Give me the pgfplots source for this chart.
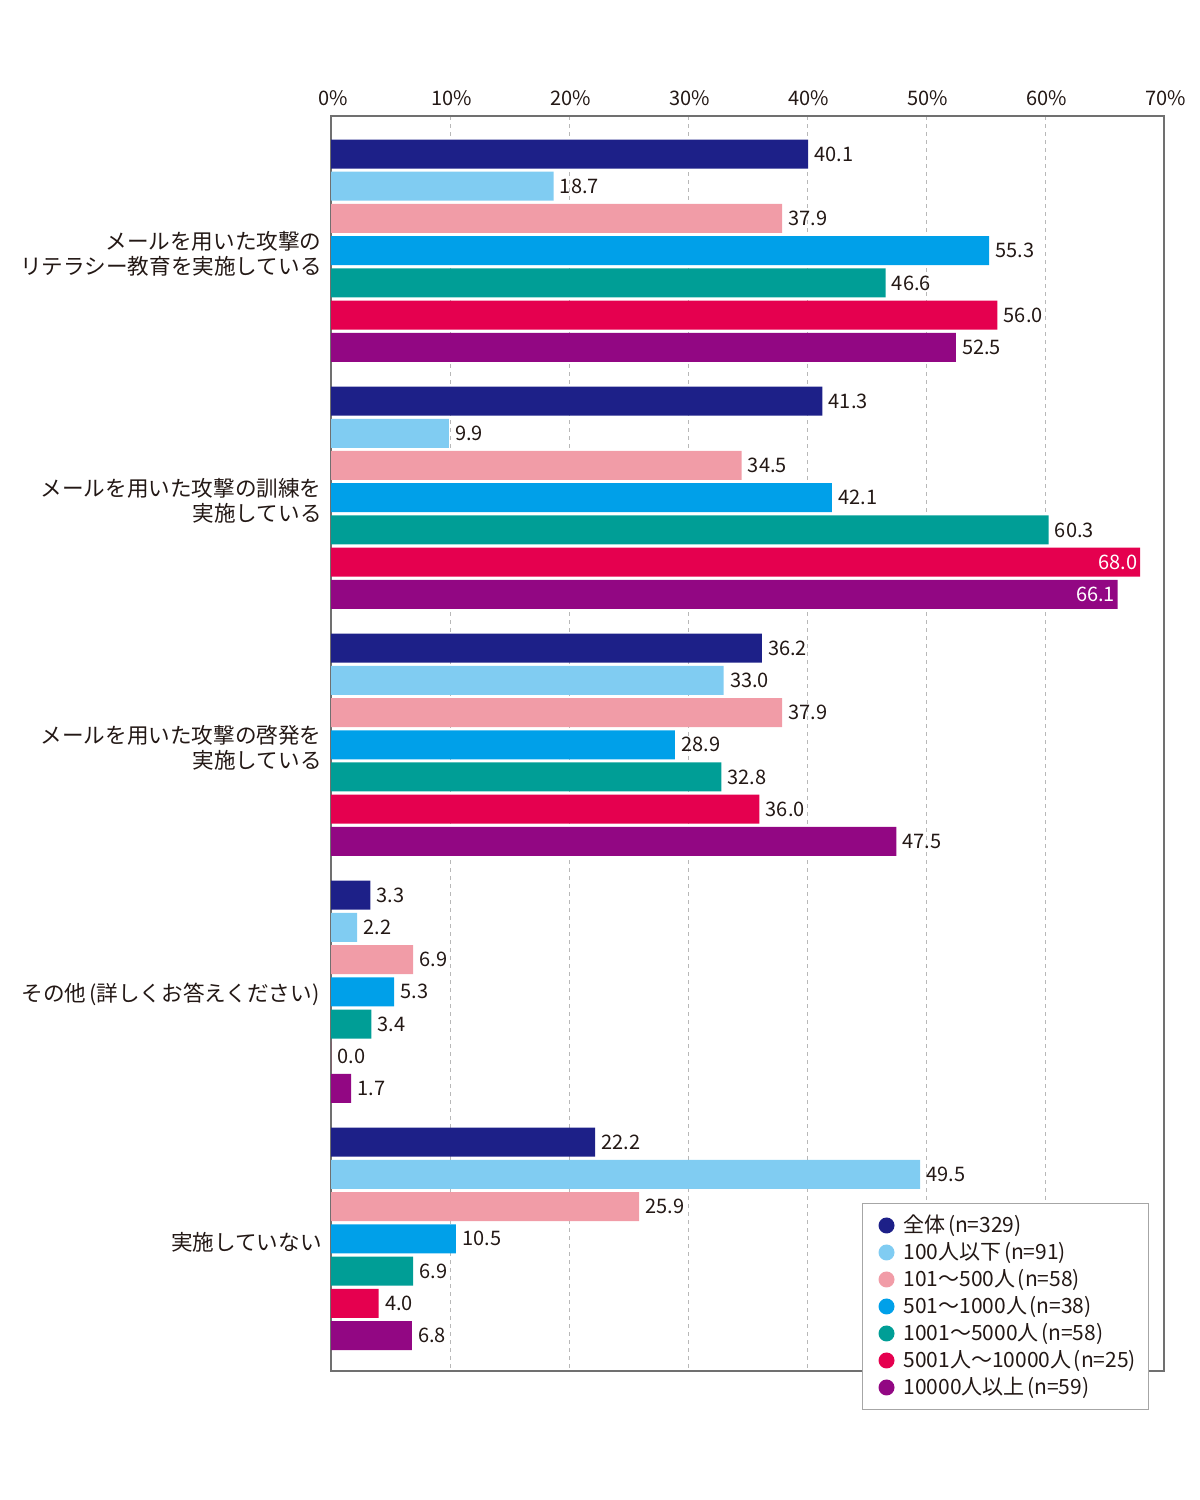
\documentclass[border=0pt]{standalone}
\usepackage{pgfplots}
\pgfplotsset{compat=1.18}
\usepackage{pgfplotstable}
\usepackage{fontspec}
\setmainfont{Noto Sans CJK JP}
\definecolor{cA}{HTML}{1D2088}
\definecolor{cB}{HTML}{80CCF2}
\definecolor{cC}{HTML}{F19CA7}
\definecolor{cD}{HTML}{00A0E9}
\definecolor{cE}{HTML}{009E96}
\definecolor{cF}{HTML}{E5004F}
\definecolor{cG}{HTML}{920783}
\definecolor{txt}{HTML}{231815}
\definecolor{framec}{HTML}{707070}

\newcommand\inlab[1]{\makebox[0pt][r]{\textcolor{white}{#1}\hspace{4.5bp}}}

\pgfplotstableread{
g s1 s2 s3 s4 s5 s6 s7 l6 l7
0 40.1 18.7 37.9 55.3 46.6 56.0 52.5 56.0 52.5
1 41.3 9.9 34.5 42.1 60.3 68.0 66.1 \inlab{68.0} \inlab{66.1}
2 36.2 33.0 37.9 28.9 32.8 36.0 47.5 36.0 47.5
3 3.3 2.2 6.9 5.3 3.4 0.0 1.7 0.0 1.7
4 22.2 49.5 25.9 10.5 6.9 4.0 6.8 4.0 6.8
}\datatable

\pgfplotsset{
  mybar/.style={draw=none, fill=#1,
    legend image code/.code={\path (-4.5bp,0bp) (0bp,0bp);
       \fill[#1,draw=none] (4bp,0bp) circle (4bp);}},
  symlab/.style={point meta=explicit symbolic, nodes near coords={\pgfplotspointmeta}},
}
\newcommand\lp{\kern0.12em(}
\newcommand\rp{)\kern0.08em}

\begin{document}
\begin{tikzpicture}
\useasboundingbox (0bp,0bp) rectangle (600bp,-750bp);
\begin{axis}[
  at={(165.5bp,-685.5bp)}, anchor=south west,
  scale only axis, width=416.5bp, height=627.5bp,
  xmin=0, xmax=70, ymin=-0.545, ymax=4.535, y dir=reverse,
  xbar, bar width=0.1174,
  /pgf/number format/assume math mode=true,
  xtick={0,10,20,30,40,50,60,70},
  xticklabels={0\%,10\%,20\%,30\%,40\%,50\%,60\%,70\%},
  xticklabel pos=upper,
  ytick={0,1,2,3,4},
  yticklabels={{メールを用いた攻撃の\\リテラシー教育を実施している},
               {メールを用いた攻撃の訓練を\\実施している},
               {メールを用いた攻撃の啓発を\\実施している},
               {その他\kern0.15em(詳しくお答えください)\kern0.1em},
               {実施していない}},
  major tick length=0pt,
  tick style={draw=none},
  xmajorgrids,
  grid style={color=black!28, dash pattern=on 2bp off 2bp, line width=0.5bp},
  axis line style={draw=framec, line width=0.6bp},
  tick label style={font=\fontsize{10bp}{12bp}\selectfont, text=txt},
  yticklabel style={font=\fontsize{10.8bp}{12.2bp}\selectfont, align=right,
     inner sep=0pt, xshift=-4.5bp, yshift=-1.5bp},
  xticklabel style={inner sep=0pt, yshift=5bp, xshift=1bp},
  clip=false,
  point meta=x,
  nodes near coords={\pgfmathprintnumber[fixed,fixed zerofill,precision=1]{\pgfplotspointmeta}},
  every node near coord/.append style={font=\fontsize{10bp}{12bp}\selectfont,
     text=txt, anchor=west, inner xsep=3bp, inner ysep=0pt},
  legend cell align=left,
  legend style={at={(0.6375,0.1339)}, anchor=north west,
     draw=black!35, line width=0.5bp, text=txt,
     font=\fontsize{10.5bp}{12bp}\selectfont,
     inner xsep=3.5bp, inner ysep=4.25bp, column sep=2.5bp,
     nodes={inner sep=2bp, text height=8.5bp, text depth=1bp}},
]
\addplot[mybar=cA, bar shift=-0.3912] table[x=s1,y=g]{\datatable};
\addlegendentry{全体\lp n=329\rp}
\addplot[mybar=cB, bar shift=-0.2608] table[x=s2,y=g]{\datatable};
\addlegendentry{100人以下\lp n=91\rp}
\addplot[mybar=cC, bar shift=-0.1304] table[x=s3,y=g]{\datatable};
\addlegendentry{101〜500人\lp n=58\rp}
\addplot[mybar=cD, bar shift=0] table[x=s4,y=g]{\datatable};
\addlegendentry{501〜1000人\lp n=38\rp}
\addplot[mybar=cE, bar shift=0.1304] table[x=s5,y=g]{\datatable};
\addlegendentry{1001〜5000人\lp n=58\rp}
\addplot[mybar=cF, bar shift=0.2608, symlab] table[x=s6,y=g,meta=l6]{\datatable};
\addlegendentry{5001人〜10000人\lp n=25\rp}
\addplot[mybar=cG, bar shift=0.3912, symlab] table[x=s7,y=g,meta=l7]{\datatable};
\addlegendentry{10000人以上\lp n=59\rp}
\end{axis}
\end{tikzpicture}
\end{document}
